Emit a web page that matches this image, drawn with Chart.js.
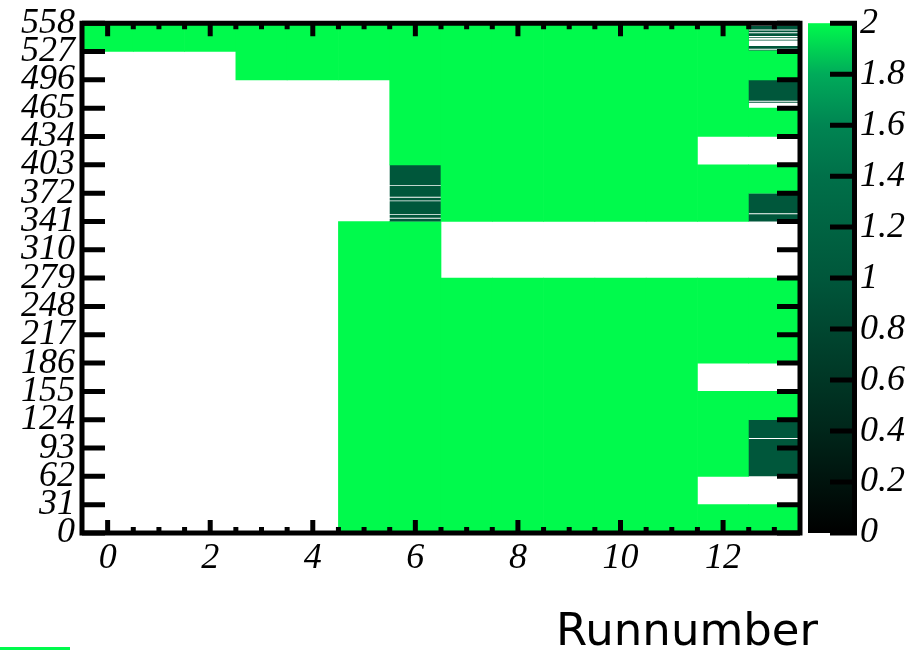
<!DOCTYPE html>
<html><head><meta charset="utf-8">
<script src="https://cdn.jsdelivr.net/npm/chart.js@4/dist/chart.umd.min.js"></script>
<style>
html,body{margin:0;padding:0;background:#fff;}
#wrap{position:relative;width:909px;height:650px;overflow:hidden;}
#legendStub{position:absolute;left:0;top:647px;width:70px;height:3px;background:#00fa4c;}
</style></head><body>
<div id="wrap"><canvas id="c" width="909" height="650"></canvas><div id="legendStub"></div></div>
<script>
// ---- data ----
const runs = [0,1,2,3,4,5,6,7,8,9,10,11,12,13];
const xTitle = 'Runnumber';
const xTickLabels = [0,2,4,6,8,10,12];
const yTickLabels = [0,31,62,93,124,155,186,217,248,279,310,341,372,403,434,465,496,527,558];
const zTickLabels = [0,0.2,0.4,0.6,0.8,1,1.2,1.4,1.6,1.8,2];
// colour palette stops (value -> colour)
const zStops  = [0, 0.4, 1.0, 1.4, 1.6, 1.8, 2.0];
const zColors = ['#000000','#00261a','#00573b','#007049','#008552','#00ab5a','#00fa4c'];
// filled channel ranges per run: [from, to, value]; missing channels are empty
const run0  = [[527,558,2]];
const run1  = [[527,558,2]];
const run2  = [[527,558,2]];
const run3  = [[496,558,2]];
const run4  = [[496,558,2]];
const run5  = [[0,341,2],[496,558,2]];
const run6  = [[0,341,2],[341,344,1],[345,348,1],[349,363,1],[364,367,1],[368,380,1],[381,403,1],[403,558,2]];
const run7  = [[0,279,2],[341,558,2]];
const run8  = [[0,279,2],[341,558,2]];
const run9  = [[0,279,2],[341,558,2]];
const run10 = [[0,279,2],[341,558,2]];
const run11 = [[0,279,2],[341,558,2]];
const run12 = [[0,31,2],[62,155,2],[186,279,2],[341,403,2],[434,558,2]];
const run13 = [[0,31,2],[62,103,1],[104,124,1],[124,155,2],[186,279,2],[341,349,1],[350,372,1],[372,403,2],
               [434,465,2],[471,472,1],[473,496,1],[496,528,2],[528,529,1],[530,533,1],[539,540,1],
               [542,543,1],[544,547,1],[548,550,1],[551,555,1]];
const allRuns = [run0,run1,run2,run3,run4,run5,run6,run7,run8,run9,run10,run11,run12,run13];

// ---- helpers ----
function hexToRgb(h){return [parseInt(h.substr(1,2),16),parseInt(h.substr(3,2),16),parseInt(h.substr(5,2),16)];}
function colorFor(v){
  if (v <= zStops[0]) return zColors[0];
  for (let i=1;i<zStops.length;i++){
    if (v <= zStops[i]){
      const t=(v-zStops[i-1])/(zStops[i]-zStops[i-1]);
      const a=hexToRgb(zColors[i-1]), b=hexToRgb(zColors[i]);
      return 'rgb('+a.map((c,k)=>Math.round(c+(b[k]-c)*t)).join(',')+')';
    }
  }
  return zColors[zColors.length-1];
}
const segments = [];
allRuns.forEach((segs,i)=>segs.forEach(s=>segments.push({x:runs[i], y:[s[0],s[1]], v:s[2]})));

const tickFont = {family:'"Liberation Serif", "Times New Roman", serif', style:'italic', size:36, lineHeight:0.9};

const framePlugin = {
  id:'frame',
  afterDraw(chart){
    const {ctx, chartArea:a, scales} = chart;
    const xs=scales.x, ys=scales.y, zs=scales.z;
    ctx.save();
    // colour bar
    const bx0=a.right+8, bx1=a.right+52;
    const yTop=zs.getPixelForValue(2), yBot=zs.getPixelForValue(0);
    const g=ctx.createLinearGradient(0,yBot,0,yTop);
    zStops.forEach((s,i)=>g.addColorStop(s/2, zColors[i]));
    ctx.fillStyle=g;
    ctx.fillRect(bx0,yTop,bx1-bx0,yBot-yTop);
    ctx.strokeStyle='#000';
    ctx.lineWidth=5;
    ctx.lineCap='butt';
    ctx.beginPath();
    ctx.moveTo(bx1+2.5,yTop-2.5); ctx.lineTo(bx1+2.5,yBot+2.5);
    zTickLabels.forEach(v=>{const y=zs.getPixelForValue(v); ctx.moveTo(bx1-22,y); ctx.lineTo(bx1+2.5,y);});
    ctx.stroke();
    // frame
    ctx.beginPath();
    ctx.rect(a.left,a.top,a.right-a.left,a.bottom-a.top);
    ctx.stroke();
    // y ticks, both sides
    ctx.beginPath();
    yTickLabels.forEach(v=>{
      const y=ys.getPixelForValue(v);
      ctx.moveTo(a.left,y); ctx.lineTo(a.left+23,y);
      ctx.moveTo(a.right,y); ctx.lineTo(a.right-23,y);
    });
    // x ticks: major every 2, minor every 0.5
    xTickLabels.forEach(m=>{
      [-1.5,-1,-0.5,0,0.5,1,1.5].forEach(d=>{
        const v=m+d;
        if (v<=xs.min||v>=xs.max) return;
        const x=xs.getPixelForValue(v);
        const L = d===0?13:6;
        ctx.moveTo(x,a.bottom); ctx.lineTo(x,a.bottom-L);
        ctx.moveTo(x,a.top); ctx.lineTo(x,a.top+L);
      });
    });
    ctx.stroke();
    // axis title (right-aligned, below the axis labels)
    ctx.fillStyle='#000';
    ctx.font='45px "DejaVu Sans", sans-serif';
    ctx.textAlign='right';
    ctx.textBaseline='alphabetic';
    ctx.fillText(xTitle, a.right+18, a.bottom+112);
    ctx.restore();
  }
};

new Chart(document.getElementById('c'),{
  type:'bar',
  data:{datasets:[{
    data:segments,
    backgroundColor:c=>colorFor(c.raw.v),
    borderWidth:0,
    inflateAmount:c=>(c.raw && c.raw.v===2) ? 0.33 : 0,
    barPercentage:1,
    categoryPercentage:1
  }]},
  options:{
    responsive:false,
    animation:false,
    layout:{padding:{top:18,right:0,bottom:0,left:0}},
    plugins:{legend:{display:false},tooltip:{enabled:false},title:{display:false}},
    scales:{
      x:{type:'linear',min:-0.5,max:13.5,offset:false,
        afterBuildTicks:s=>{s.ticks=xTickLabels.map(v=>({value:v}));},
        afterFit:s=>{s.height=117;},
        grid:{display:false,drawTicks:false,offset:false},border:{display:false},
        ticks:{font:tickFont,color:'#000',padding:9,maxRotation:0,autoSkip:false}},
      y:{type:'linear',min:0,max:558,
        afterBuildTicks:s=>{s.ticks=yTickLabels.map(v=>({value:v}));},
        afterFit:s=>{s.width=82;},
        grid:{display:false,drawTicks:false},border:{display:false},
        ticks:{font:tickFont,color:'#000',padding:7,autoSkip:false}},
      z:{type:'linear',axis:'y',position:'right',min:0,max:2,
        afterBuildTicks:s=>{s.ticks=zTickLabels.map(v=>({value:v}));},
        afterFit:s=>{s.width=109;},
        grid:{display:true,drawOnChartArea:false,drawTicks:true,tickLength:56,color:'rgba(0,0,0,0)'},
        border:{display:false},
        ticks:{font:tickFont,color:'#000',padding:4,autoSkip:false,callback:v=>String(Math.round(v*10)/10)}}
    }
  },
  plugins:[framePlugin]
});
</script>
</body></html>
